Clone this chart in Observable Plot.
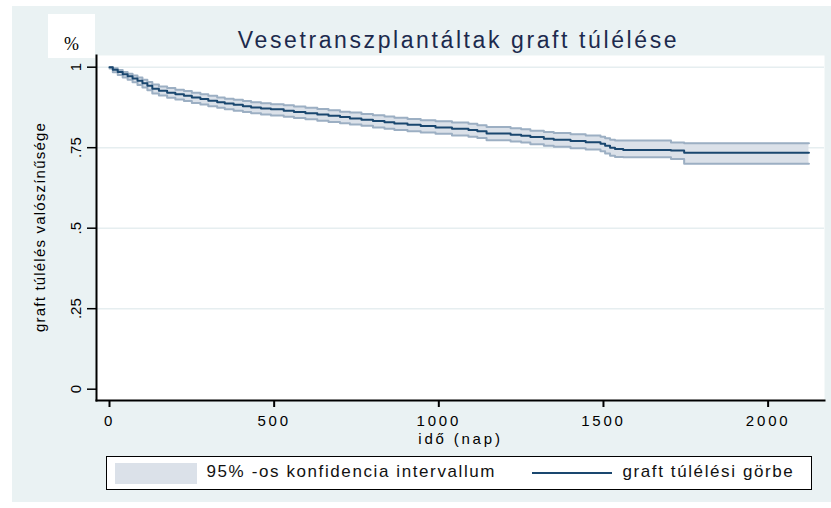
<!DOCTYPE html>
<html><head><meta charset="utf-8">
<script src="https://cdn.jsdelivr.net/npm/d3@7"></script>
<script src="https://cdn.jsdelivr.net/npm/@observablehq/plot@0.6"></script>
<style>
body{margin:0;background:#fff;}
#wrap{position:relative;width:831px;height:508px;font-family:"Liberation Sans",Arial,sans-serif;overflow:hidden;}
#bg{position:absolute;left:12px;top:6px;width:819px;height:496px;background:#eaf2f3;}
#pct{position:absolute;left:48px;top:14px;width:47px;height:44px;background:#fff;}
#pct span{position:absolute;left:0;width:47px;top:21px;line-height:18px;text-align:center;font-family:"Liberation Serif","Times New Roman",serif;font-size:18px;color:#000;}
#chart{position:absolute;left:0;top:0;}
#legend{position:absolute;left:106px;top:456px;width:706px;height:34px;box-sizing:border-box;border:1.5px solid #000;background:#fff;}
#legend .sw{position:absolute;left:7.5px;top:5.5px;width:82px;height:21px;background:#dbe1e9;}
#legend .ln{position:absolute;left:424.5px;top:14.5px;width:80px;height:2px;background:#1a476f;}
#legend .tx{position:absolute;top:6px;line-height:17px;font-size:17px;letter-spacing:1.6px;color:#111;white-space:nowrap;}
</style>
</head><body>
<div id="wrap">
  <div id="bg"></div>
  <div id="chart"></div>
  <div id="pct"><span></span></div>
  <div id="legend"><div class="sw"></div><div class="tx" id="lt1"></div><div class="ln"></div><div class="tx" id="lt2"></div></div>
</div>
<script>
// Kaplan–Meier step values
const days  = [0, 10, 25, 40, 55, 70, 85, 100, 115, 130, 150, 175, 200, 226, 250, 276, 300, 327, 350, 377, 405, 430, 460, 490, 529, 560, 595, 631, 665, 700, 730, 765, 800, 835, 865, 905, 945, 990, 1040, 1090, 1117, 1145, 1218, 1250, 1278, 1319, 1349, 1400, 1446, 1491, 1505, 1520, 1535, 1560, 1705, 1745, 2124];
const surv  = [1.000, 0.992, 0.985, 0.978, 0.972, 0.965, 0.958, 0.950, 0.942, 0.933, 0.927, 0.921, 0.916, 0.911, 0.906, 0.901, 0.896, 0.891, 0.887, 0.883, 0.879, 0.875, 0.872, 0.869, 0.865, 0.861, 0.857, 0.853, 0.849, 0.845, 0.841, 0.837, 0.833, 0.829, 0.825, 0.821, 0.817, 0.813, 0.809, 0.805, 0.801, 0.794, 0.790, 0.787, 0.783, 0.778, 0.775, 0.771, 0.767, 0.762, 0.756, 0.750, 0.746, 0.743, 0.741, 0.734, 0.734];
const lower = [0.996, 0.984, 0.976, 0.968, 0.961, 0.953, 0.945, 0.937, 0.928, 0.918, 0.912, 0.905, 0.900, 0.895, 0.889, 0.884, 0.879, 0.874, 0.869, 0.865, 0.861, 0.857, 0.853, 0.850, 0.846, 0.842, 0.838, 0.834, 0.830, 0.826, 0.822, 0.818, 0.813, 0.809, 0.805, 0.801, 0.797, 0.793, 0.788, 0.784, 0.780, 0.773, 0.769, 0.766, 0.761, 0.756, 0.753, 0.748, 0.744, 0.739, 0.732, 0.725, 0.721, 0.720, 0.715, 0.700, 0.700];
const upper = [1.000, 0.997, 0.991, 0.985, 0.980, 0.974, 0.968, 0.961, 0.954, 0.946, 0.940, 0.935, 0.930, 0.926, 0.921, 0.916, 0.911, 0.906, 0.902, 0.899, 0.895, 0.891, 0.888, 0.885, 0.882, 0.878, 0.874, 0.870, 0.866, 0.862, 0.859, 0.855, 0.851, 0.847, 0.843, 0.839, 0.835, 0.832, 0.828, 0.824, 0.820, 0.814, 0.810, 0.807, 0.803, 0.799, 0.796, 0.792, 0.788, 0.784, 0.779, 0.775, 0.772, 0.772, 0.766, 0.764, 0.764];

const xTicks = [0, 500, 1000, 1500, 2000];
const yTicks = [0, 0.25, 0.5, 0.75, 1];
const yTickLabels = ["0", ".25", ".5", ".75", "1"];
const yGrid = [0.25, 0.5, 0.75, 1];

const titleText = "Vesetranszplantáltak graft túlélése";
const xLabel = "idő (nap)";
const yLabel = "graft túlélés valószínűsége";
const unitText = "%";
const legendLabels = ["95% -os konfidencia intervallum", "graft túlélési görbe"];

const data = days.map((t, i) => ({t, s: surv[i], lo: lower[i], hi: upper[i]}));

const plot = Plot.plot({
  width: 831, height: 508,
  marginLeft: 96, marginRight: 7, marginTop: 55, marginBottom: 108,
  style: {background: "transparent", fontFamily: "'Liberation Sans', Arial, sans-serif", color: "#000", overflow: "visible"},
  x: {domain: [-39.5, 2171.2]},
  y: {domain: [-0.0351, 1.0363]},
  marks: [
    Plot.frame({fill: "#fff", stroke: null}),
    Plot.ruleY(yGrid, {stroke: "#e6eef0", strokeWidth: 1.5}),
    Plot.areaY(data, {x: "t", y1: "lo", y2: "hi", curve: "step-after", fill: "#dbe1e9"}),
    Plot.lineY(data, {x: "t", y: "lo", curve: "step-after", stroke: "#9cafc3", strokeWidth: 2}),
    Plot.lineY(data, {x: "t", y: "hi", curve: "step-after", stroke: "#9cafc3", strokeWidth: 2}),
    Plot.lineY(data, {x: "t", y: "s", curve: "step-after", stroke: "#1a476f", strokeWidth: 2}),
    Plot.axisX({ticks: xTicks, tickSize: 7, tickPadding: 8, fontSize: 15, label: null, strokeWidth: 2,
                tickFormat: d => String(d)}),
    Plot.axisY({ticks: yTicks, tickSize: 9, tickPadding: 7, tickRotate: -90, fontSize: 15, label: null, strokeWidth: 1.5,
                tickFormat: d => yTickLabels[yTicks.indexOf(d)]}),
    Plot.frame({anchor: "left", stroke: "#000", strokeWidth: 2}),
    Plot.frame({anchor: "bottom", stroke: "#000", strokeWidth: 2}),
    Plot.text([titleText], {text: d => d, frameAnchor: "top", textAnchor: "middle", dy: -8, dx: -2, lineAnchor: "bottom", fontSize: 23, fill: "#1c2a4d"}),
    Plot.text([xLabel], {text: d => d, frameAnchor: "bottom", textAnchor: "middle", dy: 43, dx: 0, lineAnchor: "bottom", fontSize: 15, fill: "#000"}),
    Plot.text([yLabel], {text: d => d, frameAnchor: "left", textAnchor: "middle", dx: -56, dy: -1, rotate: -90, lineAnchor: "middle", fontSize: 15, fill: "#000"})
  ]
});
document.getElementById("chart").appendChild(plot);

// letter spacing like the reference rendering
d3.select(plot).selectAll("text").each(function () {
  const t = this.textContent;
  const g = this.closest("g");
  const lab = (g && g.getAttribute("aria-label")) || "";
  let ls = null;
  if (t === titleText) ls = 2.6;
  else if (t === xLabel) ls = 2.8;
  else if (t === yLabel) ls = 1.2;
  else if (lab.includes("x-axis")) ls = 2.8;
  if (ls !== null) {
    this.style.letterSpacing = ls + "px";
    this.setAttribute("letter-spacing", ls);
  }
});

document.querySelector("#pct span").textContent = unitText;
document.getElementById("lt1").textContent = legendLabels[0];
document.getElementById("lt1").style.left = "99.5px";
document.getElementById("lt2").textContent = legendLabels[1];
document.getElementById("lt2").style.left = "515.5px";
</script>
</body></html>
